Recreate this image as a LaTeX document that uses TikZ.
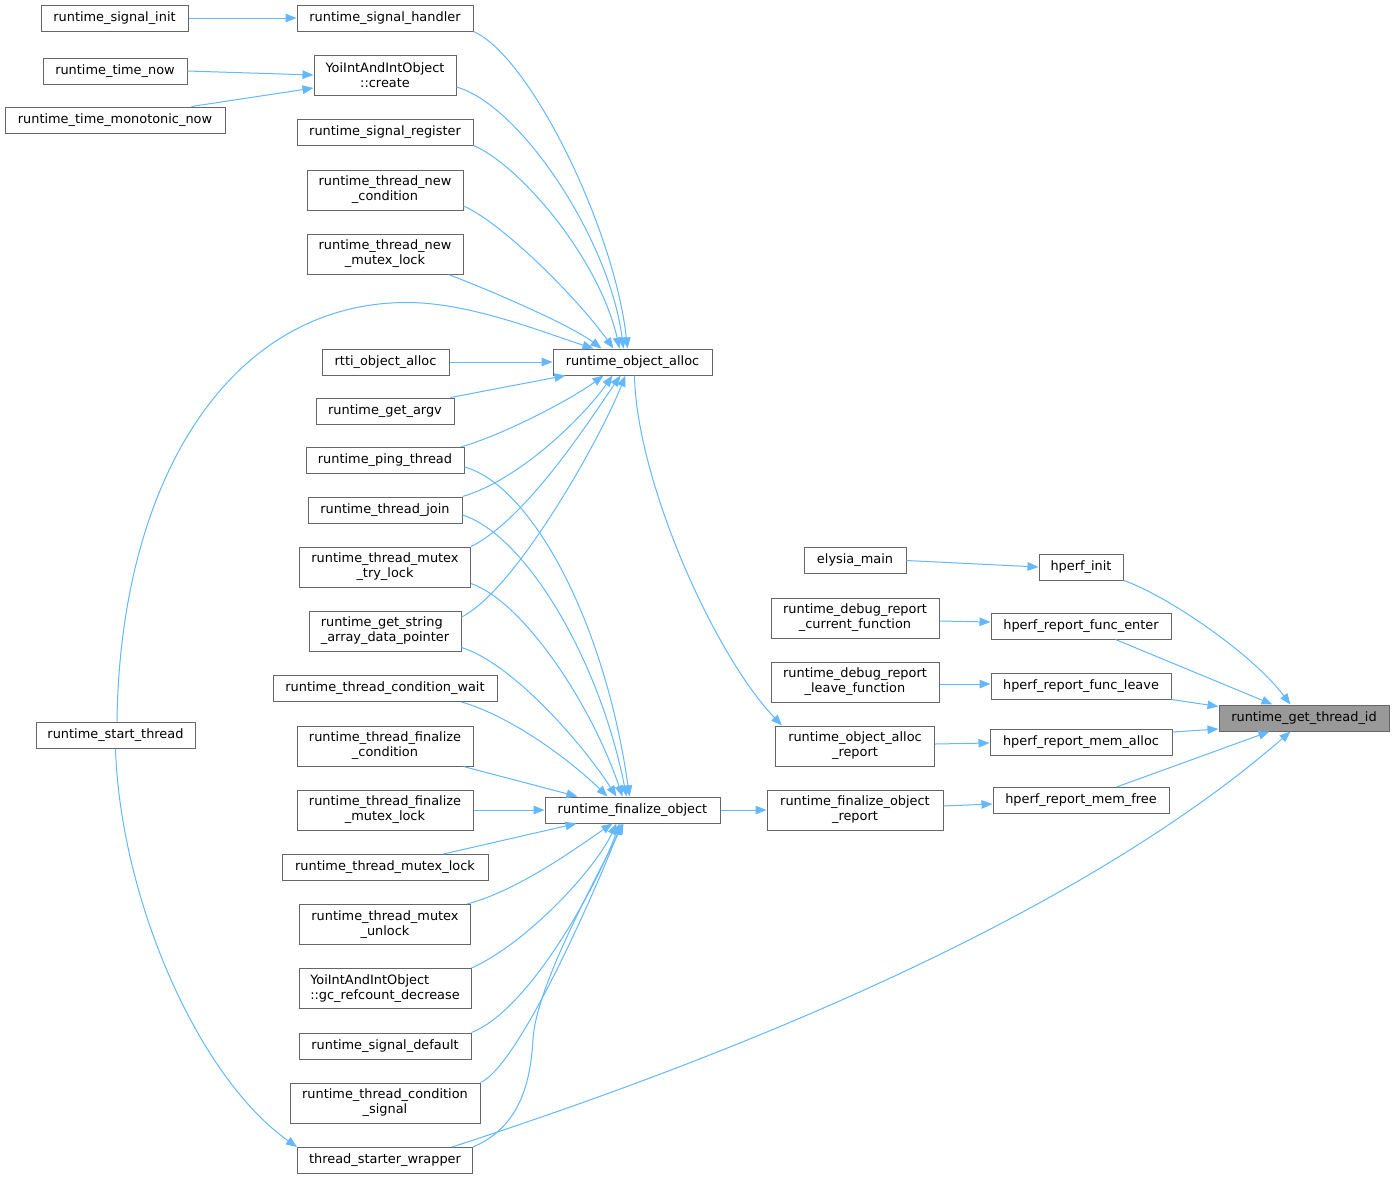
\documentclass[tikz,border=0pt]{standalone}
\usepackage{fontspec}
\setmainfont{DejaVu Sans}
\usetikzlibrary{arrows.meta}

\definecolor{edgeblue}{HTML}{63B8FF}
\definecolor{boxgray}{HTML}{666666}
\definecolor{rootgray}{HTML}{999999}

\tikzset{
    fn/.style={draw=boxgray, fill=white, line width=1pt, inner sep=0pt, minimum height=26pt, align=center},
    fntwo/.style={fn, minimum height=40pt},
    call/.style={->, draw=edgeblue, line width=1pt},
}

\begin{document}
\begin{tikzpicture}[x=1pt, y=-1pt, >={Triangle[length=11pt,width=8.5pt]},
        font=\fontsize{12.9}{15}\selectfont]
        \useasboundingbox[fill=white] (0,0) rectangle (1395,1179);

        % first column
        \node[fn, minimum width=147pt] (sinit) at (114.5,18) {runtime\_signal\_init};
        \node[fn, minimum width=144pt] (tnow) at (115,71) {runtime\_time\_now};
        \node[fn, minimum width=220pt] (tmono) at (115,120) {runtime\_time\_monotonic\_now};
        \node[fn, minimum width=159pt] (startthr) at (115.5,735) {runtime\_start\_thread};

        % second column
        \node[fn, minimum width=176pt] (shandler) at (385,18) {runtime\_signal\_handler};
        \node[fntwo, minimum width=142pt] (create) at (385,75) {YoiIntAndIntObject\\::create};
        \node[fn, minimum width=176pt] (sreg) at (385,132) {runtime\_signal\_register};
        \node[fntwo, minimum width=156pt] (newcond) at (385,190) {runtime\_thread\_new\\\_condition};
        \node[fntwo, minimum width=156pt] (newmutex) at (385,254) {runtime\_thread\_new\\\_mutex\_lock};
        \node[fn, minimum width=127pt] (rtti) at (385.5,362) {rtti\_object\_alloc};
        \node[fn, minimum width=138pt] (argv) at (385,411) {runtime\_get\_argv};
        \node[fn, minimum width=158pt] (ping) at (385,460.5) {runtime\_ping\_thread};
        \node[fn, minimum width=154pt] (join) at (385,510) {runtime\_thread\_join};
        \node[fntwo, minimum width=171pt] (trylock) at (385,567) {runtime\_thread\_mutex\\\_try\_lock};
        \node[fntwo, minimum width=152pt, align=left] (strptr) at (385,631) {runtime\_get\_string\\\_array\_data\_pointer};
        \node[fn, minimum width=224pt] (condwait) at (385,688.5) {runtime\_thread\_condition\_wait};
        \node[fntwo, minimum width=176pt] (fincond) at (385,746) {runtime\_thread\_finalize\\\_condition};
        \node[fntwo, minimum width=176pt] (finmutex) at (385,810) {runtime\_thread\_finalize\\\_mutex\_lock};
        \node[fn, minimum width=206pt] (mutexlock) at (385,867.5) {runtime\_thread\_mutex\_lock};
        \node[fntwo, minimum width=171pt] (unlock) at (385,924.5) {runtime\_thread\_mutex\\\_unlock};
        \node[fntwo, minimum width=172pt, align=left] (gcdec) at (385,988.5) {YoiIntAndIntObject\\::gc\_refcount\_decrease};
        \node[fn, minimum width=172pt] (sdefault) at (385,1046) {runtime\_signal\_default};
        \node[fntwo, minimum width=190pt] (condsig) at (385,1103) {runtime\_thread\_condition\\\_signal};
        \node[fn, minimum width=175pt] (wrapper) at (385,1160.5) {thread\_starter\_wrapper};

        % third column
        \node[fn, minimum width=159pt] (alloc) at (632.5,362) {runtime\_object\_alloc};
        \node[fn, minimum width=175pt] (finobj) at (632.5,810) {runtime\_finalize\_object};

        % fourth column
        \node[fn, minimum width=102pt] (elysia) at (855,560.5) {elysia\_main};
        \node[fntwo, minimum width=168pt] (dbgcur) at (855,618) {runtime\_debug\_report\\\_current\_function};
        \node[fntwo, minimum width=168pt] (dbgleave) at (855,682) {runtime\_debug\_report\\\_leave\_function};
        \node[fntwo, minimum width=159pt] (allocrep) at (855,746) {runtime\_object\_alloc\\\_report};
        \node[fntwo, minimum width=176pt] (finrep) at (855,810) {runtime\_finalize\_object\\\_report};

        % fifth column
        \node[fn, minimum width=84pt] (hinit) at (1081,567) {hperf\_init};
        \node[fn, minimum width=180pt] (fenter) at (1081,626) {hperf\_report\_func\_enter};
        \node[fn, minimum width=180pt] (fleave) at (1081,686) {hperf\_report\_func\_leave};
        \node[fn, minimum width=182pt] (malloc) at (1081,742) {hperf\_report\_mem\_alloc};
        \node[fn, minimum width=176pt] (mfree) at (1081,800.5) {hperf\_report\_mem\_free};

        \node[fn, fill=rootgray, minimum width=170pt] (tid) at (1304,718) {runtime\_get\_thread\_id};

        % calls into the first column
        \draw[call] (sinit.east) -- (shandler.west);
        \draw[call] (tnow.east) -- (create.west);
        \draw[call] ([xshift=-34pt]tmono.north east) -- ([yshift=-13pt]create.west);
        \draw[call] (startthr.south) .. controls +(5,152) and +(-98,-69) .. (wrapper.north west);

        % runtime_object_alloc
        \draw[call] (shandler.south east) .. controls +(57,25) and +(-13,-119) .. ([xshift=75pt]alloc.north west);
        \draw[call] ([yshift=-12pt]create.east) .. controls +(64,18) and +(-14,-109) .. ([xshift=71pt]alloc.north west);
        \draw[call] (sreg.south east) .. controls +(47,20) and +(-20,-89) .. ([xshift=67pt]alloc.north west);
        \draw[call] ([yshift=-16pt]newcond.east) .. controls +(37,16) and +(-39,-54) .. ([xshift=61pt]alloc.north west);
        \draw[call] ([xshift=-15pt]newmutex.south east) .. controls +(42,16) and +(-32,-24) .. ([xshift=49pt]alloc.north west);
        \draw[call] ([xshift=1.5pt]startthr.north) .. controls +(3,-242) and +(-177,0) .. ++(290,-419)
            .. controls +(63,0) and +(-50,-16) .. ([xshift=41pt]alloc.north west);
        \draw[call] (rtti.east) -- (alloc.west);
        \draw[call] ([xshift=-4pt]argv.north east) -- ([xshift=13pt]alloc.south west);
        \draw[call] ([xshift=-4pt]ping.north east) .. controls +(40,-11) and +(-34,25) .. ([xshift=51pt]alloc.south west);
        \draw[call] (join.north east) .. controls +(58,-17) and +(-28,40) .. ([xshift=60pt]alloc.south west);
        \draw[call] (trylock.north east) .. controls +(55,-27) and +(-31,45) .. ([xshift=68pt]alloc.south west);
        \draw[call] ([yshift=14pt]strptr.east) .. controls +(54,-27) and +(-26,65) .. ([xshift=73pt]alloc.south west);

        % runtime_finalize_object
        \draw[call] ([yshift=-6.5pt]ping.east) .. controls +(66,18) and +(-25,-177) .. ([xshift=85pt]finobj.north west);
        \draw[call] ([yshift=-5pt]join.east) .. controls +(63,20) and +(-27,-137) .. ([xshift=82pt]finobj.north west);
        \draw[call] ([yshift=4pt]trylock.south east) .. controls +(50,17) and +(-33,-97) .. ([xshift=78pt]finobj.north west);
        \draw[call] ([yshift=4pt]strptr.south east) .. controls +(49,15) and +(-37,-57) .. ([xshift=72pt]finobj.north west);
        \draw[call] ([xshift=-36pt]condwait.south east) .. controls +(49,14) and +(-38,-37) .. ([xshift=63pt]finobj.north west);
        \draw[call] ([xshift=-10pt]fincond.south east) -- ([xshift=33pt]finobj.north west);
        \draw[call] (finmutex.east) -- (finobj.west);
        \draw[call] ([xshift=-45pt]mutexlock.north east) -- ([xshift=32pt]finobj.south west);
        \draw[call] ([xshift=-4pt]unlock.north east) .. controls +(53,-14) and +(-33,22) .. ([xshift=68pt]finobj.south west);
        \draw[call] (gcdec.north east) .. controls +(54,-24) and +(-22,47) .. ([xshift=72pt]finobj.south west);
        \draw[call] (sdefault.north east) .. controls +(59,-23) and +(-20,57) .. ([xshift=75pt]finobj.south west);
        \draw[call] (condsig.north east) .. controls +(40,-18) and +(-22,57) .. ([xshift=77pt]finobj.south west);
        \draw[call] (wrapper.north east) .. controls +(37,-16) and +(-3,60) .. ++(60,-108)
            .. controls +(3,-50) and +(-34,67) .. ([xshift=79pt]finobj.south west);

        % reports
        \draw[call] ([xshift=82pt]alloc.south west) .. controls +(2,105) and +(-68,-71) .. ([xshift=7pt]allocrep.north west);
        \draw[call] (finobj.east) -- (finrep.west);
        \draw[call] (elysia.east) -- (hinit.west);
        \draw[call] ([yshift=-3pt]dbgcur.east) -- ([yshift=4pt]fenter.west);
        \draw[call] ([yshift=-2pt]dbgleave.east) -- ([yshift=2pt]fleave.west);
        \draw[call] ([yshift=2pt]allocrep.east) -- ([yshift=-1pt]malloc.west);
        \draw[call] ([yshift=4pt]finrep.east) -- ([yshift=-3.5pt]mfree.west);

        % runtime_get_thread_id
        \draw[call] (hinit.south east) .. controls +(37,12) and +(-42,-55) .. ([xshift=72pt]tid.north west);
        \draw[call] ([xshift=-56pt]fenter.south east) -- ([xshift=54pt]tid.north west);
        \draw[call] (fleave.south east) -- ([yshift=-2pt]tid.north west);
        \draw[call] ([yshift=10pt]malloc.east) -- ([yshift=2.5pt]tid.south west);
        \draw[call] ([xshift=124pt]mfree.north west) -- ([xshift=51pt]tid.south west);
        \draw[call] ([xshift=-21pt]wrapper.north east) .. controls +(523,-170) and +(-98,85) .. ([xshift=72pt]tid.south west);

    \end{tikzpicture}
\end{document}
